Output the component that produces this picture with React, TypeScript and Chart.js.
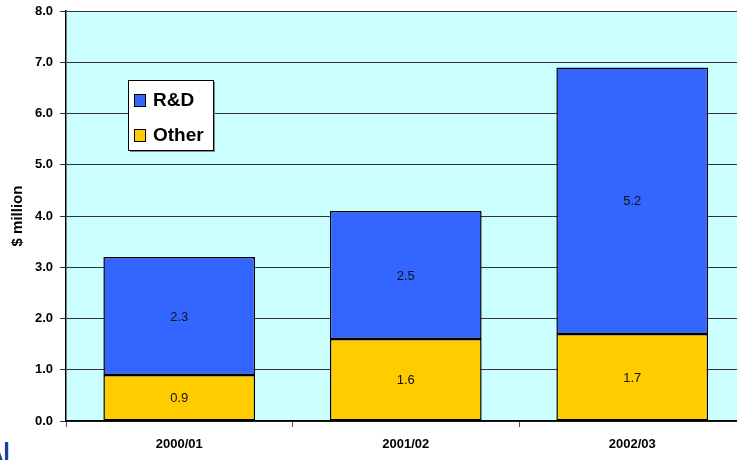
import React, { useEffect, useRef } from "react";
import { Chart, registerables } from "chart.js";

Chart.register(...registerables);

const categories = ["2000/01", "2001/02", "2002/03"];
const otherValues = [0.9, 1.6, 1.7];
const rdValues = [2.3, 2.5, 5.2];
const yTicks = [0, 1, 2, 3, 4, 5, 6, 7, 8];
const legendItems = [
  { label: "R&D", color: "#3366FF" },
  { label: "Other", color: "#FFCC00" },
];

const FONT = "'Liberation Sans', Arial, Helvetica, sans-serif";

const bgPlugin = {
  id: "plotBg",
  beforeDraw(chart: any) {
    const { ctx, chartArea } = chart;
    ctx.save();
    ctx.fillStyle = "#FFFFFF";
    ctx.fillRect(0, 0, chart.width, chart.height);
    ctx.fillStyle = "#CCFFFF";
    ctx.fillRect(chartArea.left, chartArea.top, chartArea.right - chartArea.left, chartArea.bottom - chartArea.top);
    ctx.restore();
  },
};

const labelPlugin = {
  id: "segLabels",
  afterDatasetsDraw(chart: any) {
    const { ctx } = chart;
    ctx.save();
    ctx.font = `13px ${FONT}`;
    ctx.fillStyle = "#111";
    ctx.textAlign = "center";
    ctx.textBaseline = "middle";
    chart.data.datasets.forEach((ds: any, di: number) => {
      const meta = chart.getDatasetMeta(di);
      meta.data.forEach((el: any, i: number) => {
        const p = el.getCenterPoint();
        ctx.fillText(Number(ds.data[i]).toFixed(1), p.x, p.y + 1);
      });
    });
    ctx.restore();
  },
};

const legendPlugin = {
  id: "boxLegend",
  afterDraw(chart: any) {
    const { ctx } = chart;
    const x = 128, y = 80, w = 85, h = 70;
    ctx.save();
    ctx.fillStyle = "#8a8a8a";
    ctx.fillRect(x + 2, y + 2, w, h);
    ctx.fillStyle = "#FFFFFF";
    ctx.fillRect(x, y, w, h);
    ctx.strokeStyle = "#000";
    ctx.lineWidth = 1;
    ctx.strokeRect(x + 0.5, y + 0.5, w, h);
    ctx.font = `bold 19px ${FONT}`;
    ctx.textBaseline = "middle";
    ctx.textAlign = "left";
    legendItems.forEach((it, i) => {
      const cy = y + 20 + i * 35;
      ctx.fillStyle = it.color;
      ctx.fillRect(x + 6, cy - 6, 12, 13);
      ctx.strokeStyle = "#000";
      ctx.strokeRect(x + 6.5, cy - 5.5, 11, 12);
      ctx.fillStyle = "#000";
      ctx.fillText(it.label, x + 25, cy + 1);
    });
    ctx.restore();
  },
};

export default function App() {
  const ref = useRef<HTMLCanvasElement>(null);
  useEffect(() => {
    if (!ref.current) return;
    const chart = new Chart(ref.current, {
      type: "bar",
      data: {
        labels: categories,
        datasets: [
          {
            label: "Other",
            data: otherValues,
            backgroundColor: "#FFCC00",
            borderColor: "#000",
            borderWidth: 1.5,
            borderSkipped: false,
            barPercentage: 0.67,
            categoryPercentage: 1,
          },
          {
            label: "R&D",
            data: rdValues,
            backgroundColor: "#3366FF",
            borderColor: "#000",
            borderWidth: 1.5,
            borderSkipped: false,
            barPercentage: 0.67,
            categoryPercentage: 1,
          },
        ],
      },
      options: {
        responsive: false,
        animation: false,
        devicePixelRatio: 1,
        layout: { padding: { top: 11, right: 14.5, left: 0, bottom: 0 } },
        plugins: { legend: { display: false }, tooltip: { enabled: false } },
        scales: {
          x: {
            stacked: true,
            grid: { display: true, drawOnChartArea: false, offset: true, tickLength: 6, color: "#555" },
            border: { color: "#000", width: 1.5 },
            ticks: { color: "#000", font: { family: FONT, size: 13, weight: "bold" }, padding: 10 },
            afterFit(scale: any) {
              scale.height = 40;
              scale.paddingLeft = 0;
              scale.paddingRight = 0;
            },
          },
          y: {
            stacked: true,
            min: 0,
            max: 8,
            afterBuildTicks(scale: any) {
              scale.ticks = yTicks.map((v) => ({ value: v }));
            },
            ticks: {
              color: "#000",
              font: { family: FONT, size: 13, weight: "bold" },
              padding: 7,
              callback: (v: any) => Number(v).toFixed(1),
            },
            grid: { color: "#333", lineWidth: 1, tickLength: 6 },
            border: { color: "#000", width: 1.5 },
            title: {
              display: true,
              text: "$ million",
              color: "#000",
              font: { family: FONT, size: 15, weight: "bold" },
              padding: { top: 9, bottom: 0 },
            },
            afterFit(scale: any) {
              scale.width = 66;
              scale.paddingTop = 0;
              scale.paddingBottom = 0;
            },
          },
        },
      },
      plugins: [bgPlugin, labelPlugin, legendPlugin],
    });
    return () => chart.destroy();
  }, []);

  return (
    <div style={{ position: "absolute", left: 0, top: 0, width: 737, height: 461, overflow: "hidden", background: "#fff" }}>
      <canvas ref={ref} width={760} height={461} style={{ display: "block" }} />
      <span
        style={{
          position: "absolute",
          left: -14,
          top: 440,
          fontFamily: FONT,
          fontWeight: "bold",
          fontSize: 24,
          lineHeight: 1,
          color: "#1F3C9E",
        }}
      >
        Al
      </span>
    </div>
  );
}
